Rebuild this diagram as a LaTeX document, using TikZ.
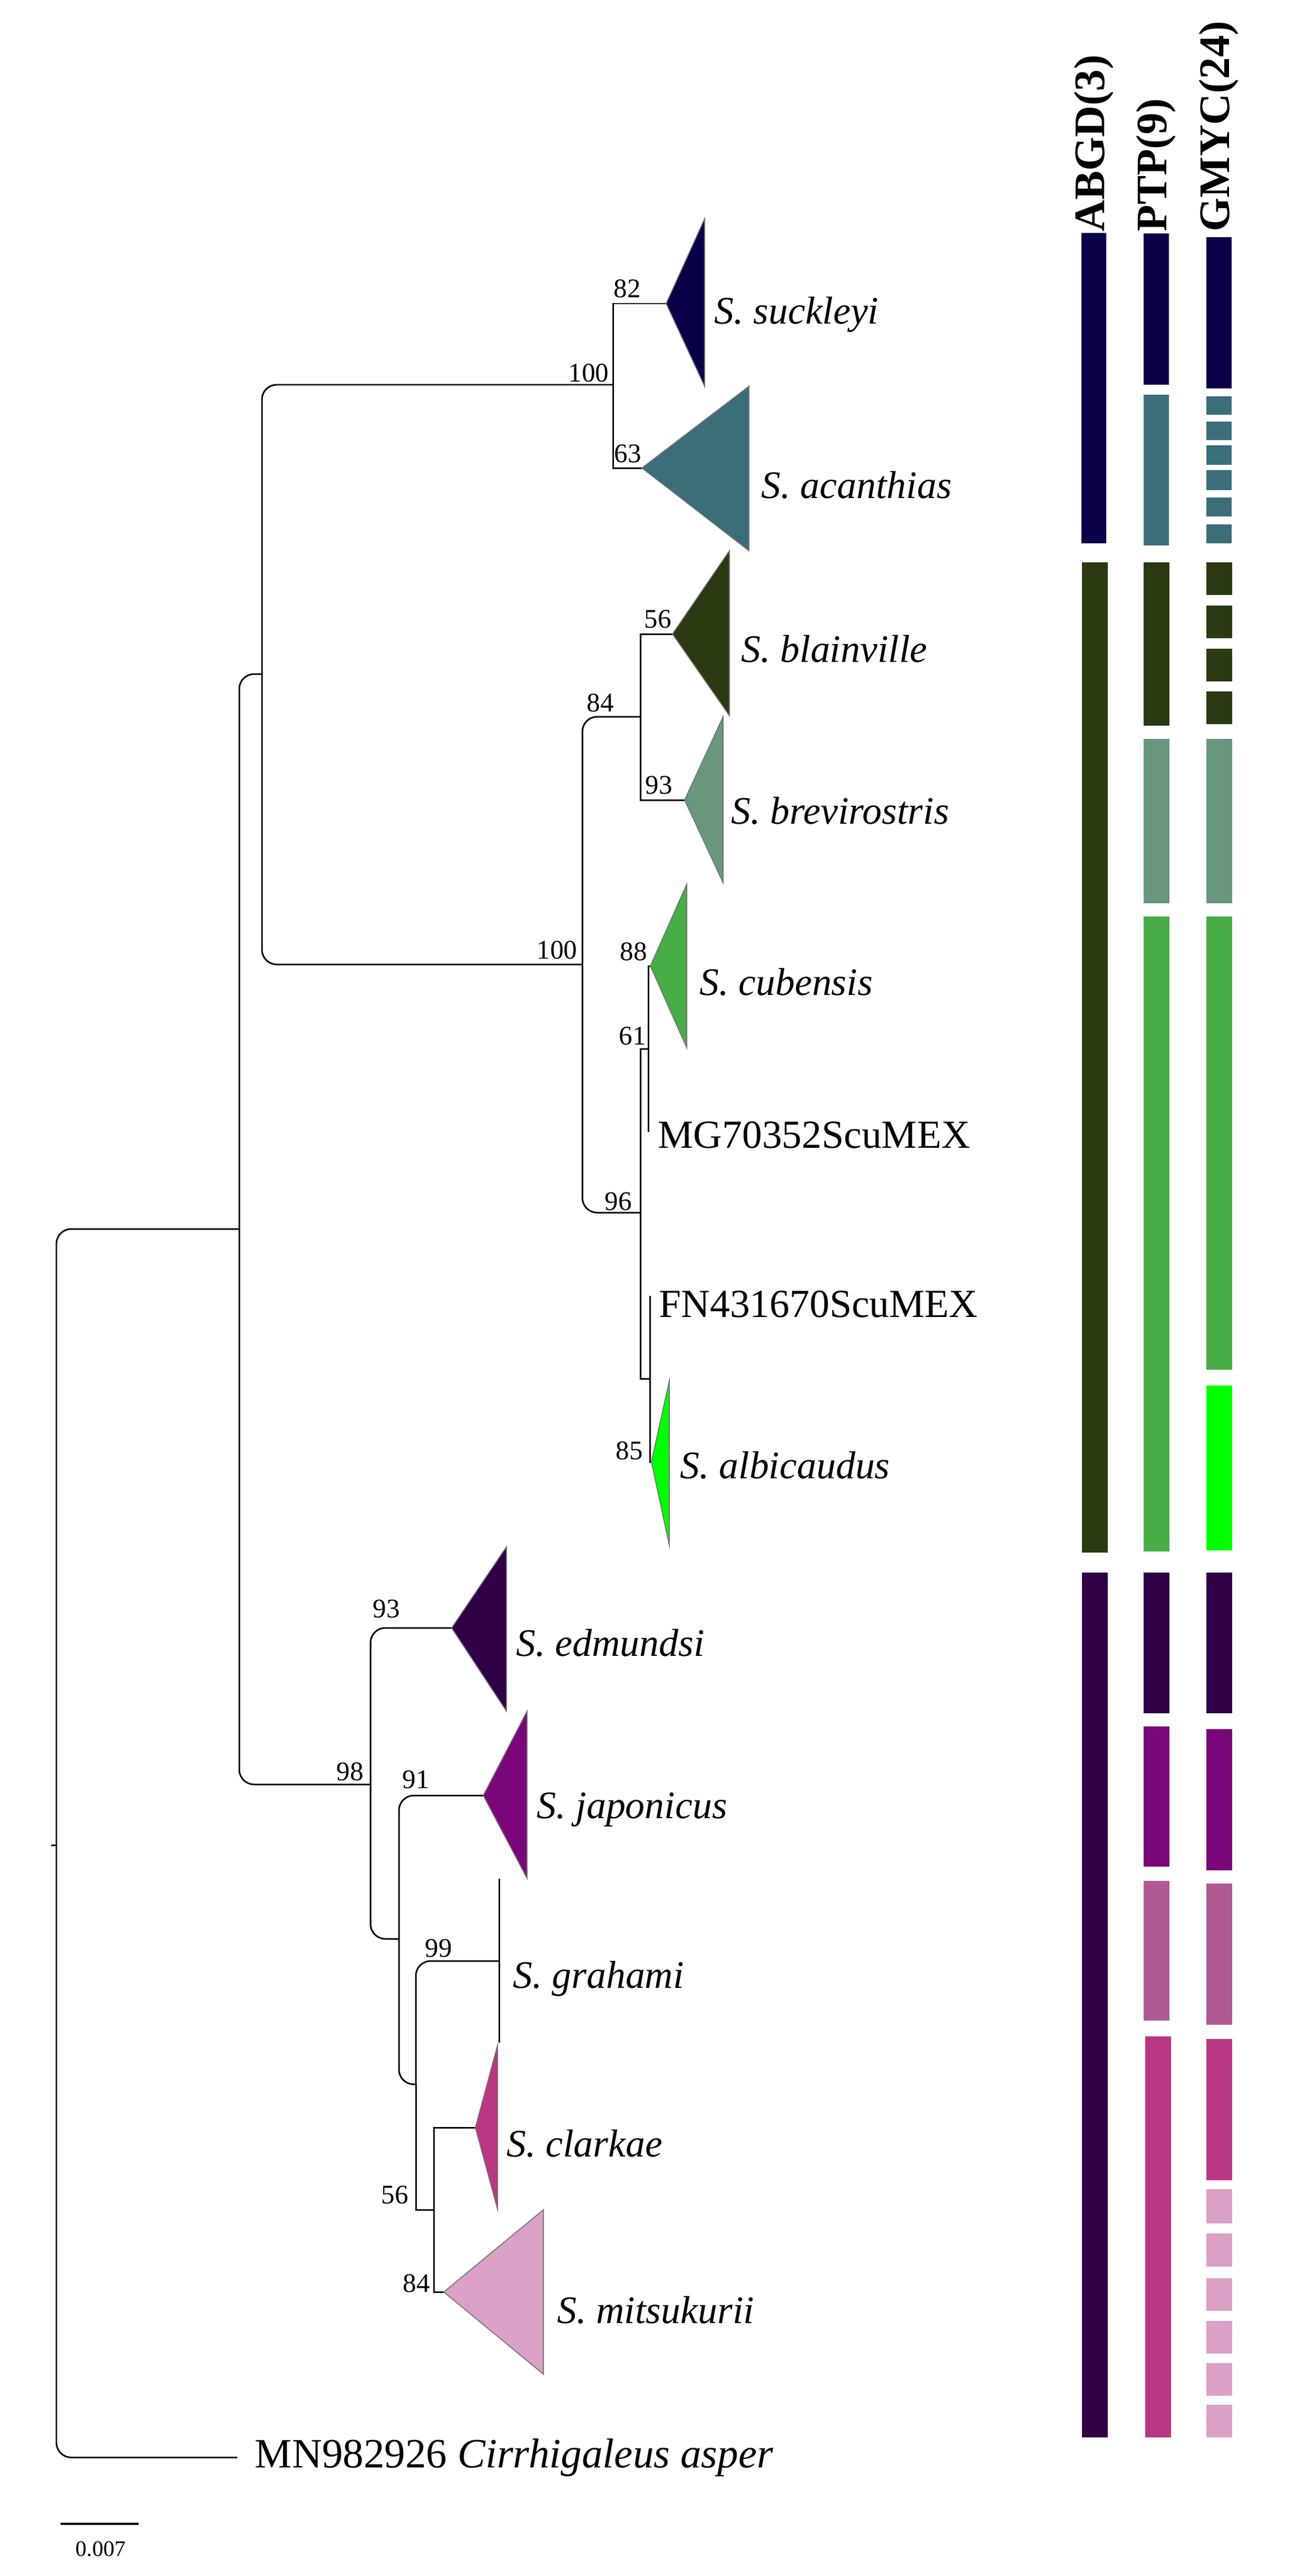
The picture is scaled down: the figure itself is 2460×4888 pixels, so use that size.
\documentclass[tikz,border=0pt]{standalone}
\usepackage{fontspec}
\setmainfont{Liberation Serif}
\begin{document}
\begin{tikzpicture}[x=0.01cm,y=-0.01cm,
  br/.style={line width=0.85pt, rounded corners=8pt},
  brs/.style={line width=0.85pt},
  tri/.style={draw=black!55, line width=0.5pt},
  bs/.style={font=\fontsize{14.5}{15}\selectfont, inner sep=0},
  sp/.style={font=\fontsize{21}{22}\selectfont\itshape, anchor=west, inner sep=0},
  acc/.style={font=\fontsize{21.5}{22}\selectfont, anchor=west, inner sep=0},
  hd/.style={font=\fontsize{23.5}{24}\selectfont\bfseries, rotate=90, anchor=west, inner sep=0},
  bar/.style={draw=none}]
\definecolor{cNavy}{HTML}{0A0048}
\definecolor{cTeal}{HTML}{3C6E7A}
\definecolor{cDkGreen}{HTML}{2B3A13}
\definecolor{cGrGreen}{HTML}{68977D}
\definecolor{cGreen}{HTML}{48AC47}
\definecolor{cLime}{HTML}{00FF00}
\definecolor{cDkPurple}{HTML}{2F0045}
\definecolor{cPurple}{HTML}{7A077A}
\definecolor{cMauve}{HTML}{B05A94}
\definecolor{cPink}{HTML}{BA3783}
\definecolor{cLtPink}{HTML}{DBA1C6}
\useasboundingbox (0,0) rectangle (2460,4888);
\fill[white] (0,0) rectangle (2460,4888);

% tree nodes
\coordinate (R) at (107,3501);
\coordinate (U) at (454,2332);
\coordinate (A) at (497,1279);
\coordinate (B) at (1163,730);
\coordinate (C) at (1105,1830);
\coordinate (D) at (1215,1360);
\coordinate (E) at (1215,2301);
\coordinate (F) at (1230,1990);
\coordinate (G) at (1233,2616);
\coordinate (H) at (703,3386);
\coordinate (I) at (757,3679);
\coordinate (J) at (789,3955);
\coordinate (K) at (823,4193);
% leaves / apices
\coordinate (suc) at (1264,576);
\coordinate (aca) at (1218,888);
\coordinate (bla) at (1276,1203);
\coordinate (bre) at (1299,1518);
\coordinate (cub) at (1234,1833);
\coordinate (mg) at (1230,2148);
\coordinate (fn) at (1233,2459);
\coordinate (alb) at (1236,2774);
\coordinate (edm) at (857,3089);
\coordinate (jap) at (917,3407);
\coordinate (gra) at (947,3721);
\coordinate (cla) at (902,4037);
\coordinate (mit) at (842,4349);
\coordinate (out) at (450,4663);

% root tick
\draw[brs] (R) -- ++(-10,0);
% branches
\draw[br] (R) |- (U);
\draw[br] (R) |- (out);
\draw[br] (U) |- (A);
\draw[br] (U) |- (H);
\draw[br] (A) |- (B);
\draw[br] (A) |- (C);
\draw[brs] (B) |- (suc);
\draw[brs] (B) |- (aca);
\draw[br] (C) |- (D);
\draw[br] (C) |- (E);
\draw[brs] (D) |- (bla);
\draw[brs] (D) |- (bre);
\draw[brs] (E) |- (F);
\draw[brs] (E) |- (G);
\draw[brs] (F) |- (cub);
\draw[brs] (F) -- (mg);
\draw[brs] (G) -- (fn);
\draw[brs] (G) |- (alb);
\draw[br] (H) |- (edm);
\draw[br] (H) |- (I);
\draw[br] (I) |- (jap);
\draw[br] (I) |- (J);
\draw[br] (J) |- (gra);
\draw[brs] (J) |- (K);
\draw[brs] (K) |- (cla);
\draw[brs] (K) |- (mit);
\draw[brs] (947,3565) -- (947,3876);

% collapsed clades
\draw[tri, fill=cNavy] (suc) -- (1337,415) -- (1337,733) -- cycle;
\draw[tri, fill=cTeal] (aca) -- (1421,733) -- (1421,1045) -- cycle;
\draw[tri, fill=cDkGreen] (bla) -- (1384,1045) -- (1384,1358) -- cycle;
\draw[tri, fill=cGrGreen] (bre) -- (1372,1360) -- (1372,1675) -- cycle;
\draw[tri, fill=cGreen] (cub) -- (1303,1678) -- (1303,1988) -- cycle;
\draw[tri, fill=cLime] (alb) -- (1270,2620) -- (1270,2932) -- cycle;
\draw[tri, fill=cDkPurple] (edm) -- (961,2935) -- (961,3247) -- cycle;
\draw[tri, fill=cPurple] (jap) -- (1000,3247) -- (1000,3564) -- cycle;
\draw[tri, fill=cPink] (cla) -- (944,3881) -- (944,4192) -- cycle;
\draw[tri, fill=cLtPink] (mit) -- (1031,4193) -- (1031,4505) -- cycle;

% support values
\node[bs] (b1) at (1117,708) {100};
\node[bs] (b2) at (1190,548) {82};
\node[bs] (b3) at (1191,861) {63};
\node[bs] (b4) at (1248,1175) {56};
\node[bs] (b5) at (1139,1334) {84};
\node[bs] (b6) at (1250,1490) {93};
\node[bs] (b7) at (1057,1803) {100};
\node[bs] (b8) at (1202,1806) {88};
\node[bs] (b9) at (1200,1966) {61};
\node[bs] (b10) at (1173,2280) {96};
\node[bs] (b11) at (1194,2753) {85};
\node[bs] (b12) at (733,3053) {93};
\node[bs] (b13) at (664,3362) {98};
\node[bs] (b14) at (789,3377) {91};
\node[bs] (b15) at (832,3697) {99};
\node[bs] (b16) at (749,4165) {56};
\node[bs] (b17) at (790,4333) {84};

% taxon labels
\node[sp] (l1) at (1355,597) {S. suckleyi};
\node[sp] (l2) at (1444,920) {S. acanthias};
\node[sp] (l3) at (1406,1231) {S. blainville};
\node[sp] (l4) at (1387,1538) {S. brevirostris};
\node[sp] (l5) at (1327,1863) {S. cubensis};
\node[acc] (l6) at (1248,2154) {MG70352ScuMEX};
\node[acc] (l7) at (1250,2475) {FN431670ScuMEX};
\node[sp] (l8) at (1290,2780) {S. albicaudus};
\node[sp] (l9) at (979,3117) {S. edmundsi};
\node[sp] (l10) at (1018,3434) {S. japonicus};
\node[sp] (l11) at (973,3755) {S. grahami};
\node[sp] (l12) at (961,4067) {S. clarkae};
\node[sp] (l13) at (1057,4383) {S. mitsukurii};
\node[acc, font=\fontsize{22.5}{23}\selectfont] (l14) at (483,4663) {MN982926 \textit{Cirrhigaleus asper}};

% scale bar
\coordinate (s1) at (115,4789);
\coordinate (s2) at (263,4789);
\draw[line width=1.1pt] (s1) -- (s2);
\node[inner sep=0, font=\fontsize{12}{12}\selectfont] (sl) at (191,4837) {0.007};

% headings
\node[hd] (h1) at (2076,440) {ABGD(3)};
\node[hd] (h2) at (2194,440) {PTP(9)};
\node[hd] (h3) at (2313,440) {GMYC(24)};

% ABGD bars
\fill[cNavy] (2052,442) rectangle (2099,1031);
\fill[cDkGreen] (2053,1067) rectangle (2102,2946);
\fill[cDkPurple] (2053,2984) rectangle (2102,4625);
% PTP bars
\fill[cNavy] (2170,443) rectangle (2218,730);
\fill[cTeal] (2170,749) rectangle (2218,1035);
\fill[cDkGreen] (2170,1067) rectangle (2219,1377);
\fill[cGrGreen] (2170,1402) rectangle (2219,1714);
\fill[cGreen] (2170,1739) rectangle (2219,2944);
\fill[cDkPurple] (2170,2984) rectangle (2219,3251);
\fill[cPurple] (2170,3276) rectangle (2219,3542);
\fill[cMauve] (2170,3569) rectangle (2219,3834);
\fill[cPink] (2173,3864) rectangle (2222,4625);
% GMYC bars
\fill[cNavy] (2289,450) rectangle (2337,737);
\foreach \a/\b in {752/787,800/835,845/882,892/930,944/980,995/1031}
  \fill[cTeal] (2289,\a) rectangle (2337,\b);
\foreach \a/\b in {1067/1129,1149/1211,1231/1293,1312/1374}
  \fill[cDkGreen] (2289,\a) rectangle (2338,\b);
\fill[cGrGreen] (2289,1402) rectangle (2338,1714);
\fill[cGreen] (2289,1739) rectangle (2338,2599);
\fill[cLime] (2289,2629) rectangle (2338,2942);
\fill[cDkPurple] (2289,2984) rectangle (2338,3251);
\fill[cPurple] (2289,3281) rectangle (2338,3549);
\fill[cMauve] (2289,3574) rectangle (2338,3842);
\fill[cPink] (2289,3869) rectangle (2338,4137);
\foreach \a/\b in {4154/4219,4238/4301,4323/4385,4404/4466,4484/4546,4563/4625}
  \fill[cLtPink] (2289,\a) rectangle (2338,\b);
\end{tikzpicture}
\end{document}
